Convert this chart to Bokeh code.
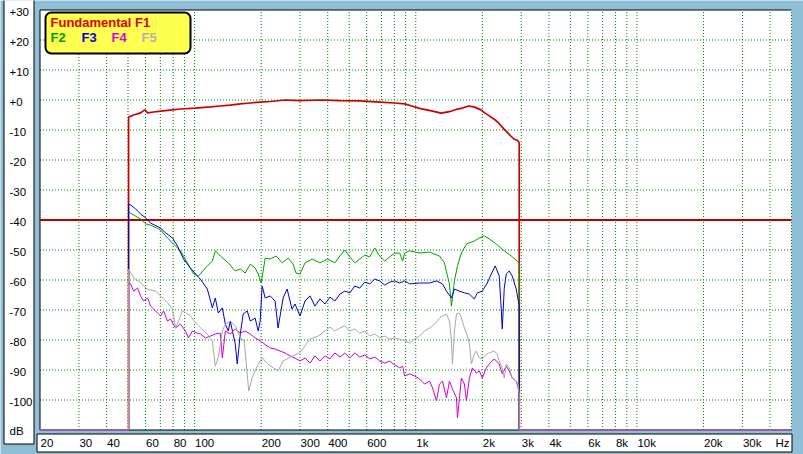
import math
from bokeh.plotting import figure
from bokeh.models import ColumnDataSource, BoxAnnotation, Label, LabelSet
from bokeh.core.properties import value
from bokeh.embed import file_html
from bokeh.resources import INLINE

# ---------------- data ----------------
FREQ_MIN, FREQ_MAX = 20, 50000
DB_MIN, DB_MAX = -110, 30
FLOOR_DB = -110
REF_LEVEL_DB = -40

X_GRID = [30, 40, 50, 60, 70, 80, 90, 100, 200, 300, 400, 500, 600, 700, 800, 900,
          1000, 2000, 3000, 4000, 5000, 6000, 7000, 8000, 9000, 10000, 20000, 30000, 40000]
Y_GRID = [-100, -90, -80, -70, -60, -50, -30, -20, -10, 0, 10, 20]

X_TICKS = [20, 30, 40, 60, 80, 100, 200, 300, 400, 600, 1000, 2000, 3000, 4000,
           6000, 8000, 10000, 20000, 30000]
X_LABELS = ["20", "30", "40", "60", "80", "100", "200", "300", "400", "600", "1k",
            "2k", "3k", "4k", "6k", "8k", "10k", "20k", "30k"]
Y_TICKS = [30, 20, 10, 0, -10, -20, -30, -40, -50, -60, -70, -80, -90, -100]
Y_LABELS = ["+30", "+20", "+10", "+0", "-10", "-20", "-30", "-40", "-50", "-60",
            "-70", "-80", "-90", "-100"]

SERIES_NAMES = ["Fundamental F1", "F2", "F3", "F4", "F5"]
SERIES_COLORS = ["#cc0000", "#00a000", "#0000cc", "#cc00cc", "#a8a8a8"]
LEGEND_COLORS = ["#dd0000", "#00a000", "#0000dd", "#dd00dd", "#b0b0b0"]

# (frequency Hz, level dB)
F1 = [(50.3, -5.7), (53.0, -5.0), (57.0, -4.3), (59.5, -3.3), (61.3, -4.3), (65.3, -4.0),
      (70.2, -3.7), (79.5, -3.3), (86.3, -3.0), (100.9, -2.7), (117.8, -2.3), (130.7, -2.0),
      (145.0, -1.7), (160.9, -1.3), (178.5, -1.0), (197.9, -0.7), (219.6, -0.5), (256.6, 0.0),
      (299.8, -0.2), (368.9, 0.0), (453.9, -0.2), (558.3, -0.3), (687.2, -0.7), (803.0, -1.0),
      (890.7, -1.3), (960.0, -2.0), (1041, -2.8), (1192, -3.7), (1302, -4.4), (1420, -3.9),
      (1530, -3.1), (1640, -2.6), (1735, -2.0), (1830, -2.3), (1973, -3.3), (2042, -4.2),
      (2150, -5.3), (2265, -6.4), (2385, -7.9), (2513, -9.8), (2600, -10.9), (2690, -12.0),
      (2790, -13.1), (2880, -13.4), (2937, -14.2)]

F2 = [(50.3, -37.3), (57.0, -39.7), (60.1, -41.3), (63.2, -41.7), (70.2, -43.3), (75.4, -46.0),
      (86.3, -50.3), (92.8, -54.3), (99.0, -58.0), (104.1, -58.7), (111.9, -56.0), (120.3, -53.7),
      (124.1, -50.3), (130.7, -52.0), (142.0, -54.3), (152.7, -57.0), (160.9, -56.3), (169.4, -57.7),
      (178.5, -54.7), (187.9, -56.0), (193.9, -58.0), (200.0, -61.0), (208.6, -52.7), (219.6, -53.0),
      (234.0, -52.0), (249.0, -54.3), (264.7, -52.7), (278.7, -54.7), (287.6, -57.7), (299.8, -58.0),
      (315.8, -54.3), (340.0, -53.0), (368.9, -54.3), (400.0, -53.0), (430.9, -54.3), (453.9, -52.0),
      (477.9, -50.0), (503.3, -52.3), (530.1, -54.3), (558.3, -53.0), (588.2, -51.7), (619.5, -52.3),
      (652.4, -49.3), (687.2, -52.0), (723.8, -53.7), (762.3, -52.3), (803.0, -51.0), (845.7, -51.0),
      (872.4, -53.7), (890.7, -51.0), (938.1, -50.3), (1041, -51.0), (1154, -50.7), (1280, -52.0),
      (1348, -54.3), (1391, -58.7), (1420, -61.3), (1450, -68.7), (1496, -60.3), (1544, -55.3),
      (1609, -51.0), (1695, -48.0), (1841, -47.0), (1939, -46.0), (2042, -45.3), (2150, -46.3),
      (2312, -48.0), (2513, -50.3), (2702, -52.0), (2876, -53.7), (2937, -54.3)]

F3 = [(50.3, -34.7), (51.4, -35.0), (54.1, -36.3), (57.0, -38.0), (60.1, -39.3), (63.2, -41.0),
      (70.2, -42.7), (73.9, -44.3), (79.5, -46.0), (83.7, -48.7), (89.1, -53.0), (95.8, -56.0),
      (103.0, -58.7), (106.2, -59.7), (114.2, -63.0), (120.3, -69.3), (124.1, -66.0), (128.0, -71.0),
      (133.5, -69.3), (137.7, -74.7), (142.0, -77.0), (145.0, -73.7), (152.7, -81.3), (155.9, -88.0),
      (160.9, -78.0), (165.9, -71.3), (173.0, -70.3), (178.5, -73.7), (187.9, -72.7), (193.9, -77.0),
      (197.9, -73.7), (202.1, -62.0), (208.6, -66.0), (219.6, -65.3), (231.2, -67.0), (238.5, -76.0),
      (251.3, -66.0), (262.0, -63.0), (275.8, -69.7), (284.6, -68.0), (299.8, -72.0), (315.8, -67.0),
      (332.6, -65.3), (350.0, -68.7), (368.9, -66.3), (388.6, -68.0), (409.3, -65.7), (430.9, -67.0),
      (453.9, -64.7), (477.9, -63.7), (503.3, -64.3), (530.1, -62.0), (558.3, -62.7), (588.2, -60.7),
      (619.5, -61.3), (652.4, -59.7), (687.2, -60.3), (723.8, -61.7), (762.3, -60.7), (803.0, -60.3),
      (845.7, -61.0), (890.7, -60.3), (938.1, -61.3), (1041, -61.0), (1154, -61.0), (1241, -60.3),
      (1321, -61.3), (1377, -63.7), (1450, -66.0), (1496, -63.0), (1576, -63.7), (1660, -64.3),
      (1748, -64.7), (1841, -66.3), (1899, -64.3), (2000, -63.7), (2106, -61.0), (2195, -58.0),
      (2288, -55.3), (2385, -58.7), (2435, -69.7), (2461, -76.3), (2513, -62.7), (2566, -58.0),
      (2647, -57.0), (2731, -58.7), (2846, -63.0), (2937, -68.7)]

F4 = [(50.3, -61.0), (51.4, -61.3), (53.0, -63.7), (55.3, -62.7), (57.0, -65.3), (58.8, -67.0),
      (61.3, -66.0), (63.2, -68.7), (65.3, -69.7), (68.0, -71.0), (70.2, -72.0), (72.4, -70.3),
      (75.4, -73.7), (77.8, -73.0), (82.0, -76.0), (86.3, -74.7), (90.9, -77.0), (93.8, -79.3),
      (97.8, -77.0), (103.0, -77.7), (106.2, -78.0), (111.9, -79.3), (117.8, -78.7), (124.1, -78.0),
      (130.7, -77.7), (133.5, -86.0), (137.7, -77.0), (145.0, -78.0), (152.7, -76.3), (160.9, -77.7),
      (169.4, -77.0), (178.5, -78.0), (187.9, -79.3), (197.9, -80.3), (204.0, -81.0), (213.0, -82.0),
      (219.6, -82.7), (231.2, -83.0), (243.6, -83.7), (256.6, -84.3), (270.2, -85.3), (284.6, -86.0),
      (299.8, -87.0), (315.8, -86.0), (332.6, -87.7), (350.0, -85.3), (368.9, -87.0), (388.6, -85.3),
      (409.3, -86.3), (430.9, -84.3), (453.9, -85.7), (477.9, -84.3), (503.3, -86.0), (530.1, -84.3),
      (558.3, -85.7), (588.2, -85.0), (619.5, -86.3), (652.4, -85.7), (687.2, -87.0), (723.8, -87.7),
      (762.3, -87.0), (803.0, -88.3), (845.7, -89.3), (872.4, -88.7), (890.7, -92.0), (938.1, -91.3),
      (988.0, -92.0), (1041, -93.0), (1096, -94.7), (1154, -93.7), (1191, -96.0), (1241, -100.3),
      (1280, -94.7), (1321, -93.7), (1377, -99.3), (1420, -93.7), (1465, -96.3), (1528, -99.3),
      (1544, -106.0), (1609, -92.7), (1660, -94.7), (1695, -100.3), (1748, -92.7), (1803, -89.3),
      (1880, -91.0), (1939, -90.3), (2000, -92.7), (2085, -89.3), (2150, -88.0), (2265, -86.3),
      (2385, -88.0), (2461, -91.3), (2566, -88.7), (2647, -90.3), (2731, -92.7), (2846, -93.7),
      (2906, -96.0), (2937, -99.3)]

F5 = [(50.3, -56.4), (53.0, -59.2), (57.0, -61.0), (61.3, -63.1), (66.6, -63.7), (70.2, -65.3),
      (75.4, -67.6), (79.5, -69.8), (82.0, -75.9), (84.6, -73.7), (88.1, -70.3), (90.9, -70.9),
      (95.8, -72.0), (100.9, -74.2), (106.2, -75.9), (114.2, -78.1), (120.3, -80.3), (124.1, -88.7),
      (128.0, -85.9), (133.5, -77.0), (137.7, -74.8), (145.0, -73.7), (152.7, -75.3), (160.9, -79.2),
      (167.7, -80.3), (175.7, -97.0), (182.2, -92.6), (193.9, -88.1), (202.1, -85.9), (215.1, -88.1),
      (238.5, -90.3), (251.3, -87.0), (278.7, -85.3), (299.8, -84.2), (315.8, -82.0), (332.6, -79.7),
      (361.3, -78.7), (388.6, -77.0), (409.3, -75.7), (430.9, -77.0), (453.9, -76.0), (477.9, -75.3),
      (503.3, -77.0), (530.1, -76.3), (558.3, -77.7), (588.2, -77.0), (619.5, -78.7), (652.4, -78.0),
      (687.2, -79.3), (723.8, -78.7), (762.3, -79.7), (803.0, -79.3), (845.7, -79.7), (890.7, -80.3),
      (938.1, -81.0), (988.0, -79.7), (1041, -78.7), (1096, -77.0), (1154, -76.0), (1216, -74.7),
      (1280, -72.7), (1321, -72.0), (1377, -71.3), (1420, -73.7), (1450, -80.3), (1465, -88.0),
      (1496, -77.0), (1528, -71.3), (1576, -71.0), (1609, -72.7), (1660, -76.0), (1712, -78.7),
      (1748, -81.3), (1785, -88.0), (1841, -84.7), (1880, -83.7), (1939, -86.0), (2000, -86.3),
      (2085, -84.7), (2150, -84.3), (2265, -83.7), (2336, -84.7), (2385, -87.0), (2461, -89.3),
      (2513, -92.7), (2566, -88.0), (2647, -89.3), (2731, -92.7), (2846, -93.7), (2906, -95.0),
      (2937, -98.0)]

SERIES = [F1, F2, F3, F4, F5]
LINE_WIDTHS = [1.7, 1, 1, 1, 1]

# ---------------- layout (canvas pixels) ----------------
W, H = 803, 454
PLOT_L, PLOT_R, PLOT_T, PLOT_B = 39.5, 791, 9.5, 429.5
FONT = "Liberation Sans"
BG = "#8fbfd7"
GRID_COLOR = "#008000"

# extend the ranges so that the frame spans the whole canvas and the
# data area [FREQ_MIN..FREQ_MAX] x [DB_MIN..DB_MAX] lands on the plot box
kx = (PLOT_R - PLOT_L) / (math.log10(FREQ_MAX) - math.log10(FREQ_MIN))
x_lo = 10 ** (math.log10(FREQ_MIN) - PLOT_L / kx)
x_hi = 10 ** (math.log10(FREQ_MAX) + (W - PLOT_R) / kx)
ky = (PLOT_B - PLOT_T) / (DB_MAX - DB_MIN)
y_hi = DB_MAX + PLOT_T / ky
y_lo = DB_MIN - (H - PLOT_B) / ky

p = figure(width=W, height=H, x_axis_type="log",
           x_range=(x_lo, x_hi), y_range=(y_lo, y_hi),
           x_axis_location=None, y_axis_location=None,
           output_backend="svg", toolbar_location=None,
           min_border=0, min_border_left=0, min_border_right=0,
           min_border_top=0, min_border_bottom=0,
           background_fill_color=BG, border_fill_color=BG,
           outline_line_color=None)
p.xgrid.visible = False
p.ygrid.visible = False

# plot area
p.add_layout(BoxAnnotation(left=FREQ_MIN, right=FREQ_MAX, bottom=DB_MIN, top=DB_MAX,
                           fill_color="white", fill_alpha=1, line_color=None,
                           level="underlay"))
# label boxes
p.add_layout(BoxAnnotation(left=3.5, right=33.5, top=-2, bottom=443.5,
                           left_units="canvas", right_units="canvas",
                           top_units="canvas", bottom_units="canvas",
                           fill_color="white", fill_alpha=1,
                           line_color="black", line_width=1, line_alpha=1, level="underlay"))
p.add_layout(BoxAnnotation(left=36.5, right=791.5, top=433.5, bottom=451.5,
                           left_units="canvas", right_units="canvas",
                           top_units="canvas", bottom_units="canvas",
                           fill_color="white", fill_alpha=1,
                           line_color="black", line_width=1, line_alpha=1, level="underlay"))

# grid
p.segment(x0=X_GRID, y0=[DB_MIN] * len(X_GRID), x1=X_GRID, y1=[DB_MAX] * len(X_GRID),
          line_color=GRID_COLOR, line_dash="1 2", line_width=1)
p.segment(x0=[FREQ_MIN] * len(Y_GRID), y0=Y_GRID, x1=[FREQ_MAX] * len(Y_GRID), y1=Y_GRID,
          line_color=GRID_COLOR, line_dash="1 2", line_width=1)
p.segment(x0=[FREQ_MAX], y0=[DB_MIN], x1=[FREQ_MAX], y1=[DB_MAX],
          line_color=GRID_COLOR, line_dash="1 2", line_width=1)
# frame edges (left, top, bottom)
p.segment(x0=[FREQ_MIN, FREQ_MIN, FREQ_MIN], y0=[DB_MIN, DB_MAX, DB_MIN],
          x1=[FREQ_MIN, FREQ_MAX, FREQ_MAX], y1=[DB_MAX, DB_MAX, DB_MIN],
          line_color="black", line_width=1)
# reference level
p.line([FREQ_MIN, FREQ_MAX], [REF_LEVEL_DB, REF_LEVEL_DB], line_color="#c00000", line_width=2)

for pts, color, lw in zip(SERIES, SERIES_COLORS, LINE_WIDTHS):
    freqs = [f for f, _ in pts]
    levels = [d for _, d in pts]
    xs = [FREQ_MIN, freqs[0]] + freqs + [freqs[-1], FREQ_MAX]
    ys = [FLOOR_DB, FLOOR_DB] + levels + [FLOOR_DB, FLOOR_DB]
    p.line(xs, ys, line_color=color, line_width=lw)

# tick labels
ysrc = ColumnDataSource(dict(y=Y_TICKS, text=Y_LABELS))
p.add_layout(LabelSet(x=9, y="y", text="text", source=ysrc, x_units="canvas", y_units="data",
                      y_offset=-1.5, text_font=value(FONT), text_font_size="11.5px",
                      text_color="black", text_align="left", text_baseline="middle"))
xsrc = ColumnDataSource(dict(x=X_TICKS, text=X_LABELS))
p.add_layout(LabelSet(x="x", y=442.5, text="text", source=xsrc, x_units="data", y_units="canvas",
                      x_offset=0.5, text_font=value(FONT), text_font_size="11.5px",
                      text_color="black", text_align="left", text_baseline="middle"))
p.add_layout(Label(x=9, y=430, x_units="canvas", y_units="canvas", text="dB",
                   text_font=FONT, text_font_size="11.5px", text_color="black",
                   text_align="left", text_baseline="middle"))
p.add_layout(Label(x=775, y=442.5, x_units="canvas", y_units="canvas", text="Hz",
                   text_font=FONT, text_font_size="11.5px", text_color="black",
                   text_align="left", text_baseline="middle"))

# legend
p.add_layout(BoxAnnotation(left=45, right=190, top=12, bottom=53,
                           left_units="canvas", right_units="canvas",
                           top_units="canvas", bottom_units="canvas",
                           fill_color="#ffff50", fill_alpha=1, border_radius=6,
                           line_color="black", line_width=2, line_alpha=1))
p.add_layout(Label(x=50, y=22, x_units="canvas", y_units="canvas", text=SERIES_NAMES[0],
                   text_font=FONT, text_font_size="13px", text_font_style="bold",
                   text_color=LEGEND_COLORS[0], text_align="left", text_baseline="middle"))
for name, col, lx in zip(SERIES_NAMES[1:], LEGEND_COLORS[1:], [50, 81, 111, 141]):
    p.add_layout(Label(x=lx, y=36.5, x_units="canvas", y_units="canvas", text=name,
                       text_font=FONT, text_font_size="13px", text_font_style="bold",
                       text_color=col, text_align="left", text_baseline="middle"))

open("out.html", "w").write(file_html(p, INLINE))
